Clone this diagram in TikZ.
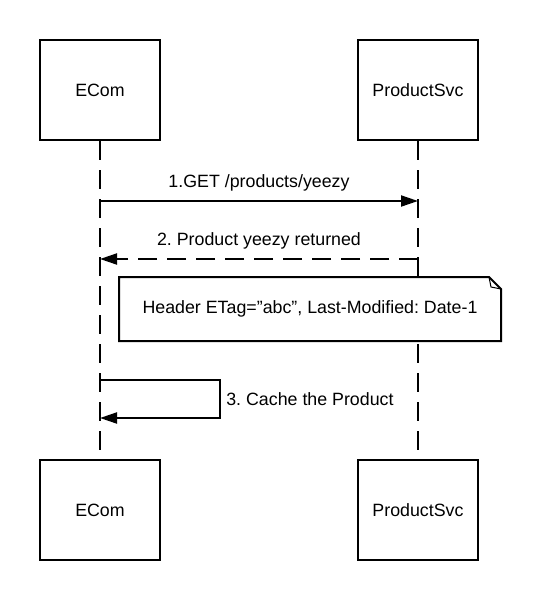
\documentclass[tikz,border=0pt]{standalone}
\usepackage{fontspec}
\setmainfont{Liberation Sans}
\usetikzlibrary{arrows.meta}
\frenchspacing

\begin{document}
\begin{tikzpicture}[x=1pt, y=-1pt, line width=2pt,
  every node/.style={font=\fontsize{17.8}{21}\selectfont},
  actor/.style={draw, fill=white, minimum width=120pt, minimum height=100pt, inner sep=0pt},
  lifeline/.style={dash pattern=on 19pt off 10pt},
  msg/.style={-{Triangle[length=17pt, width=11pt]}},
  reply/.style={msg, dash pattern=on 19pt off 10pt}]
\useasboundingbox (0, 0) rectangle (539, 600);
% actors, top and bottom
\node [actor] (ecom) at (100, 90) {ECom};
\node [actor] (psvc) at (418, 90) {ProductSvc};
\node [actor] (ecomb) at (100, 510) {ECom};
\node [actor] (psvcb) at (418, 510) {ProductSvc};
% lifelines
\draw [lifeline] (ecom) -- (ecomb);
\draw [lifeline] (psvc) -- (psvcb);
% message points
\coordinate (get1) at (ecom |- 0, 201);
\coordinate (get2) at (psvc |- 0, 201);
\coordinate (ret1) at (psvc |- 0, 259);
\coordinate (ret2) at (ecom |- 0, 259);
\coordinate (cache1) at (ecom |- 0, 380);
\coordinate (cache2) at (ecom |- 0, 418);
\draw [msg] (get1) -- node [above=5pt] {1.GET /products/yeezy} (get2);
\draw [reply] (ret1) -- node [above=5pt] {2. Product yeezy returned} (ret2);
% note
\node [fill=white, minimum width=380pt, minimum height=62pt] (note) at (310, 309) {Header ETag=\char34 abc\char34, Last-Modified: Date-1};
\draw (note.north west) -- ([xshift=-12pt]note.north east) -- ([yshift=-12pt]note.north east)
  -- (note.south east) -- (note.south west) -- cycle;
\draw [line width=1pt] ([xshift=-12pt]note.north east) -- ([xshift=-10pt, yshift=-10pt]note.north east)
  -- ([yshift=-12pt]note.north east);
% self call
\draw [msg] (cache1) -- ++(120, 0) -- node [right, xshift=2pt] {3. Cache the Product} ++(0, 38) -- (cache2);
\end{tikzpicture}
\end{document}
